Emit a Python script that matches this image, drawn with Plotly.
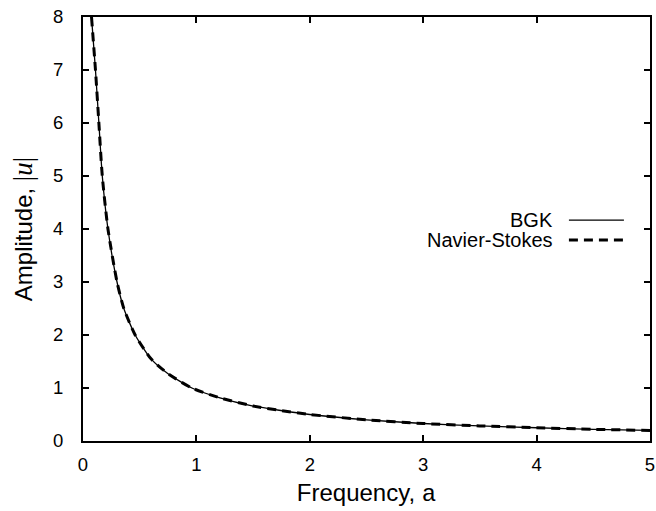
import plotly.graph_objects as go

# Values
freq_bgk = [0.075, 0.11, 0.14, 0.17, 0.22, 0.30, 0.36, 0.46, 0.60, 0.75, 0.96,
            1.2, 1.5, 1.73, 2.0, 2.5, 3.0, 3.5, 4.0, 4.5, 5.0]
amp_bgk = [8.0, 7.0, 6.0, 5.0, 4.0, 3.0, 2.5, 2.0, 1.55, 1.27, 1.0,
           0.82, 0.66, 0.58, 0.5, 0.4, 0.33, 0.285, 0.25, 0.22, 0.2]

freq_ns = [0.075, 0.11, 0.14, 0.17, 0.22, 0.30, 0.36, 0.46, 0.60, 0.75, 0.96,
           1.2, 1.5, 1.73, 2.0, 2.5, 3.0, 3.5, 4.0, 4.5, 5.0]
amp_ns = [8.0, 7.0, 6.0, 5.0, 4.0, 3.0, 2.5, 2.0, 1.55, 1.27, 1.0,
          0.82, 0.66, 0.58, 0.5, 0.4, 0.33, 0.285, 0.25, 0.22, 0.2]

x_ticks = [0, 1, 2, 3, 4, 5]
y_ticks = [0, 1, 2, 3, 4, 5, 6, 7, 8]
series_names = ["BGK", "Navier-Stokes"]

FONT = "Liberation Sans, Arial, Helvetica, sans-serif"

fig = go.Figure()
fig.add_trace(go.Scatter(x=freq_bgk, y=amp_bgk, mode="lines", name=series_names[0],
                         line=dict(color="black", width=1.3, shape="spline", smoothing=0.6),
                         showlegend=False, cliponaxis=True))
fig.add_trace(go.Scatter(x=freq_ns, y=amp_ns, mode="lines", name=series_names[1],
                         line=dict(color="black", width=3, dash="9px,6px", shape="spline", smoothing=0.6),
                         showlegend=False, cliponaxis=True))

# gnuplot-style key: text on the left, line sample on the right
key_text_x = 0.832
key_line_x0, key_line_x1 = 0.857, 0.954
key_y = [0.521, 0.474]
styles = [dict(color="black", width=1.3), dict(color="black", width=3, dash="9px,6px")]
for name, yy, st in zip(series_names, key_y, styles):
    fig.add_annotation(x=key_text_x, y=yy, xref="paper", yref="paper", text=name,
                       showarrow=False, xanchor="right", yanchor="middle",
                       font=dict(family=FONT, size=20, color="black"))
    fig.add_shape(type="line", xref="paper", yref="paper", x0=key_line_x0, x1=key_line_x1,
                  y0=yy, y1=yy, line=st)

axis_common = dict(showline=True, linecolor="black", linewidth=2, mirror="ticks",
                   ticks="inside", ticklen=6, tickwidth=1.5, tickcolor="black",
                   showgrid=False, zeroline=False,
                   tickfont=dict(family=FONT, size=18.5, color="black"))

fig.update_xaxes(range=[0, 5], tickvals=x_ticks, ticktext=[str(v) for v in x_ticks],
                 ticklabelstandoff=6,
                 title=dict(text="Frequency, <span style=\"font-family:'Liberation Mono'\">a</span>",
                            font=dict(family=FONT, size=24, color="black"), standoff=10),
                 **axis_common)
fig.update_yaxes(range=[0, 8], tickvals=y_ticks, ticktext=[str(v) for v in y_ticks],
                 ticklabelstandoff=14,
                 title=dict(text="Amplitude, <span style=\"font-family:'Liberation Serif';font-size:27px\">|<i>u</i>|</span>",
                            font=dict(family=FONT, size=24, color="black"), standoff=14),
                 **axis_common)

fig.update_layout(width=656, height=511,
                  margin=dict(l=83, r=6, t=17, b=70, autoexpand=False),
                  paper_bgcolor="white", plot_bgcolor="white",
                  font=dict(family=FONT, color="black"))

fig.write_html("out.html", config={"displayModeBar": False},
               post_script="document.body.style.margin='0';")
